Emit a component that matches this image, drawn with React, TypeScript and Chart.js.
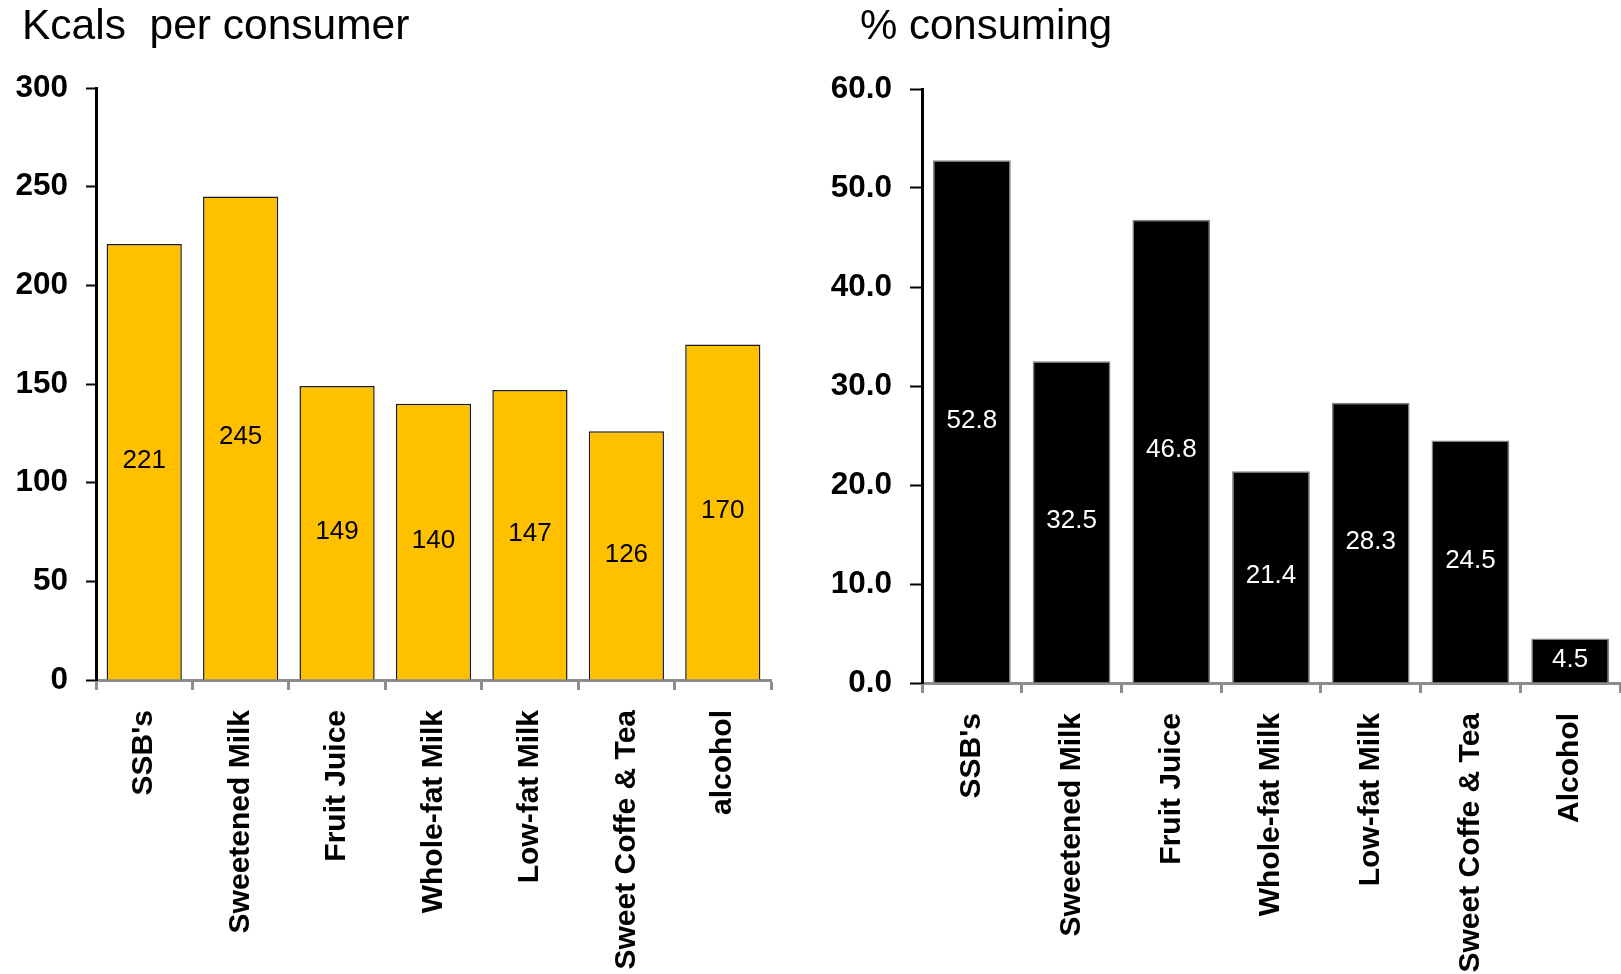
import React, { useEffect, useRef } from "react";
import { Chart, registerables } from "chart.js";

Chart.register(...registerables);

// ---- data ----
const kcalCategories = ["SSB's", "Sweetened Milk", "Fruit Juice", "Whole-fat Milk", "Low-fat Milk", "Sweet Coffe & Tea", "alcohol"];
const kcalValues = [221, 245, 149, 140, 147, 126, 170];
const kcalTitle = "Kcals  per consumer";

const pctCategories = ["SSB's", "Sweetened Milk", "Fruit Juice", "Whole-fat Milk", "Low-fat Milk", "Sweet Coffe & Tea", "Alcohol"];
const pctValues = [52.8, 32.5, 46.8, 21.4, 28.3, 24.5, 4.5];
const pctTitle = "% consuming";

const kcalAxis = [0, 300, 50];
const pctAxis = [0, 60, 10];

const FONT = "'Liberation Sans', Arial, Helvetica, sans-serif";

type PanelProps = {
  left: number;
  width: number;
  title: string;
  titleLeft: number;
  titleSize: number;
  labels: string[];
  values: number[];
  axis: number[];
  decimals: number;
  barColor: string;
  barBorder: string;
  labelColor: string;
  yAxisWidth: number;
  padTop: number;
  padRight: number;
  xAxisHeight: number;
  yTickLength: number;
};

function makeValuePlugin(color: string, decimals: number) {
  return {
    id: "valueLabels",
    afterDatasetsDraw(chart: any) {
      const ctx = chart.ctx;
      const meta = chart.getDatasetMeta(0);
      const data = chart.data.datasets[0].data as number[];
      ctx.save();
      ctx.font = `normal 26px ${FONT}`;
      ctx.fillStyle = color;
      ctx.textAlign = "center";
      ctx.textBaseline = "middle";
      meta.data.forEach((bar: any, i: number) => {
        const p = bar.getProps(["x", "y", "base"], true);
        ctx.fillText(data[i].toFixed(decimals), p.x, (p.y + p.base) / 2 - 1);
      });
      ctx.restore();
    },
  };
}

function Panel(props: PanelProps) {
  const ref = useRef<HTMLCanvasElement | null>(null);
  useEffect(() => {
    if (!ref.current) return;
    const chart = new Chart(ref.current, {
      type: "bar",
      data: {
        labels: props.labels,
        datasets: [
          {
            data: props.values,
            backgroundColor: props.barColor,
            borderColor: props.barBorder,
            borderWidth: 1.5,
            barPercentage: 0.78,
            categoryPercentage: 1,
          },
        ],
      },
      options: {
        animation: false,
        responsive: false,
        maintainAspectRatio: false,
        layout: { padding: { top: props.padTop, right: props.padRight, left: 0, bottom: 0 } },
        plugins: {
          legend: { display: false },
          tooltip: { enabled: false },
          title: { display: false },
        },
        scales: {
          x: {
            grid: {
              display: true,
              offset: true,
              drawOnChartArea: false,
              drawTicks: true,
              tickLength: 10,
              tickColor: "#8c8c8c",
              tickWidth: 3,
            },
            border: { display: true, color: "#8c8c8c", width: 3 },
            ticks: {
              autoSkip: false,
              minRotation: 90,
              maxRotation: 90,
              padding: 20,
              color: "#000",
              font: { family: FONT, size: 30, weight: "bold" },
            },
            afterFit: (scale: any) => {
              scale.height = props.xAxisHeight;
              scale.paddingLeft = 0;
              scale.paddingRight = 0;
            },
          },
          y: {
            min: props.axis[0],
            max: props.axis[1],
            grid: {
              display: true,
              drawOnChartArea: false,
              drawTicks: true,
              tickLength: props.yTickLength,
              tickColor: "#000",
              tickWidth: 2,
            },
            border: { display: true, color: "#000", width: 3 },
            ticks: {
              stepSize: props.axis[2],
              padding: 18,
              color: "#000",
              font: { family: FONT, size: 31.5, weight: "bold" },
              callback: (v: any) => Number(v).toFixed(props.decimals),
            },
            afterFit: (scale: any) => {
              scale.width = props.yAxisWidth;
            },
          },
        },
      },
      plugins: [makeValuePlugin(props.labelColor, props.decimals)],
    } as any);
    return () => chart.destroy();
  }, []);

  return (
    <div style={{ position: "absolute", left: props.left, top: 0, width: props.width, height: 974 }}>
      <canvas ref={ref} width={props.width} height={974} style={{ display: "block" }} />
      <div
        style={{
          position: "absolute",
          left: props.titleLeft,
          top: 4,
          fontFamily: FONT,
          fontSize: props.titleSize,
          lineHeight: `${props.titleSize}px`,
          whiteSpace: "pre",
          color: "#000",
        }}
      >
        {props.title}
      </div>
    </div>
  );
}

export default function App() {
  return (
    <div style={{ position: "absolute", left: 0, top: 0, width: 1621, height: 974, background: "#fff", overflow: "hidden" }}>
      <Panel
        left={0}
        width={800}
        title={kcalTitle}
        titleLeft={22}
        titleSize={42.5}
        labels={kcalCategories}
        values={kcalValues}
        axis={kcalAxis}
        decimals={0}
        barColor="#FFC000"
        barBorder="#1a1a1a"
        labelColor="#000"
        yAxisWidth={96}
        padTop={88}
        padRight={29}
        xAxisHeight={294}
        yTickLength={10}
      />
      <Panel
        left={800}
        width={821}
        title={pctTitle}
        titleLeft={60}
        titleSize={42}
        labels={pctCategories}
        values={pctValues}
        axis={pctAxis}
        decimals={1}
        barColor="#000000"
        barBorder="#7f7f7f"
        labelColor="#fff"
        yAxisWidth={122}
        padTop={89}
        padRight={1}
        xAxisHeight={291}
        yTickLength={12}
      />
    </div>
  );
}
